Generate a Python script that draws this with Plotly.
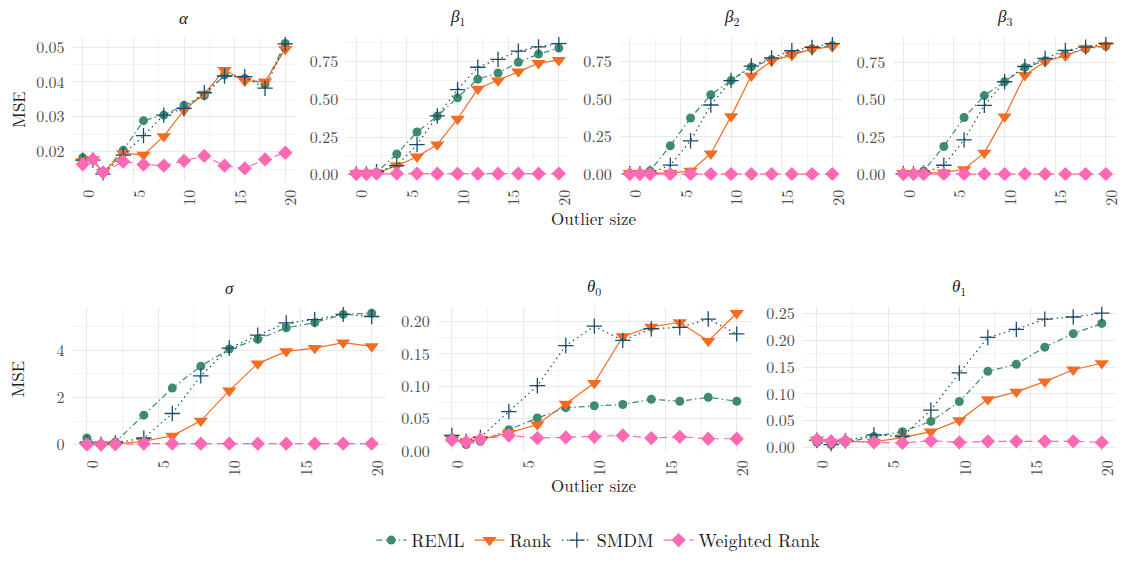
import plotly.graph_objects as go

W, H = 1123, 563

# Outlier sizes on the x axis
outlier = [0, 1, 2, 4, 6, 8, 10, 12, 14, 16, 18, 20]

methods = ["REML", "Rank", "SMDM", "Weighted Rank"]

# MSE per parameter and method
alpha_reml = [0.0183, 0.0176, 0.0141, 0.0204, 0.0289, 0.0305, 0.0333, 0.0361, 0.0420, 0.0410, 0.0394, 0.0510]
alpha_rank = [0.0172, 0.0178, 0.0141, 0.0195, 0.0191, 0.0244, 0.0319, 0.0366, 0.0434, 0.0403, 0.0401, 0.0494]
alpha_smdm = [0.0176, 0.0176, 0.0136, 0.0190, 0.0246, 0.0305, 0.0324, 0.0369, 0.0417, 0.0415, 0.0382, 0.0509]
alpha_wrank = [0.0164, 0.0178, 0.0141, 0.0172, 0.0163, 0.0160, 0.0174, 0.0188, 0.0160, 0.0152, 0.0178, 0.0197]

beta1_reml = [0.010, 0.010, 0.015, 0.138, 0.284, 0.389, 0.510, 0.634, 0.675, 0.746, 0.800, 0.840]
beta1_rank = [0.010, 0.010, 0.012, 0.060, 0.120, 0.200, 0.370, 0.570, 0.625, 0.684, 0.740, 0.760]
beta1_smdm = [0.005, 0.005, 0.020, 0.060, 0.200, 0.390, 0.565, 0.713, 0.765, 0.820, 0.848, 0.870]
beta1_wrank = [0.005, 0.006, 0.008, 0.008, 0.008, 0.007, 0.007, 0.007, 0.007, 0.008, 0.007, 0.008]

beta2_reml = [0.003, 0.005, 0.022, 0.190, 0.375, 0.530, 0.625, 0.716, 0.765, 0.800, 0.837, 0.859]
beta2_rank = [0.007, 0.007, 0.007, 0.007, 0.022, 0.137, 0.386, 0.657, 0.755, 0.794, 0.835, 0.852]
beta2_smdm = [0.003, 0.003, 0.007, 0.060, 0.223, 0.462, 0.625, 0.722, 0.776, 0.824, 0.846, 0.872]
beta2_wrank = [0.001, 0.001, 0.001, 0.001, 0.001, 0.001, 0.001, 0.001, 0.001, 0.001, 0.001, 0.001]

beta3_reml = [0.003, 0.005, 0.022, 0.186, 0.380, 0.527, 0.620, 0.716, 0.760, 0.800, 0.840, 0.859]
beta3_rank = [0.007, 0.007, 0.007, 0.011, 0.033, 0.143, 0.386, 0.664, 0.755, 0.794, 0.846, 0.863]
beta3_smdm = [0.003, 0.003, 0.007, 0.060, 0.230, 0.462, 0.620, 0.722, 0.776, 0.830, 0.852, 0.876]
beta3_wrank = [0.001, 0.001, 0.001, 0.001, 0.001, 0.001, 0.001, 0.001, 0.001, 0.001, 0.001, 0.001]

sigma_reml = [0.28, 0.02, 0.11, 1.25, 2.40, 3.33, 4.06, 4.47, 4.96, 5.18, 5.53, 5.58]
sigma_rank = [0.02, 0.02, 0.03, 0.14, 0.37, 1.01, 2.29, 3.44, 3.96, 4.10, 4.33, 4.17]
sigma_smdm = [0.07, 0.00, 0.07, 0.28, 1.32, 2.92, 4.10, 4.65, 5.17, 5.31, 5.53, 5.44]
sigma_wrank = [0.00, 0.00, 0.01, 0.04, 0.04, 0.04, 0.04, 0.04, 0.04, 0.04, 0.04, 0.04]

theta0_reml = [0.020, 0.010, 0.015, 0.033, 0.051, 0.067, 0.070, 0.072, 0.080, 0.077, 0.083, 0.077]
theta0_rank = [0.018, 0.015, 0.018, 0.028, 0.041, 0.073, 0.105, 0.177, 0.192, 0.199, 0.170, 0.213]
theta0_smdm = [0.024, 0.015, 0.021, 0.061, 0.101, 0.163, 0.193, 0.171, 0.189, 0.191, 0.204, 0.181]
theta0_wrank = [0.017, 0.014, 0.018, 0.024, 0.020, 0.021, 0.022, 0.024, 0.020, 0.022, 0.019, 0.019]

theta1_reml = [0.010, 0.006, 0.010, 0.021, 0.030, 0.049, 0.086, 0.142, 0.155, 0.187, 0.212, 0.231]
theta1_rank = [0.015, 0.010, 0.012, 0.011, 0.019, 0.030, 0.051, 0.090, 0.104, 0.123, 0.145, 0.157]
theta1_smdm = [0.014, 0.006, 0.013, 0.024, 0.021, 0.070, 0.139, 0.205, 0.220, 0.239, 0.243, 0.250]
theta1_wrank = [0.015, 0.012, 0.013, 0.010, 0.009, 0.013, 0.010, 0.012, 0.012, 0.012, 0.012, 0.010]

panel_titles = ["<i>α</i>", "<i>β</i><sub>1</sub>", "<i>β</i><sub>2</sub>", "<i>β</i><sub>3</sub>",
                "<i>σ</i>", "<i>θ</i><sub>0</sub>", "<i>θ</i><sub>1</sub>"]

panel_data = [
    [alpha_reml, alpha_rank, alpha_smdm, alpha_wrank],
    [beta1_reml, beta1_rank, beta1_smdm, beta1_wrank],
    [beta2_reml, beta2_rank, beta2_smdm, beta2_wrank],
    [beta3_reml, beta3_rank, beta3_smdm, beta3_wrank],
    [sigma_reml, sigma_rank, sigma_smdm, sigma_wrank],
    [theta0_reml, theta0_rank, theta0_smdm, theta0_wrank],
    [theta1_reml, theta1_rank, theta1_smdm, theta1_wrank],
]

# y-axis tick spacing (major, minor) and label format per panel
y_ticks = [(0.01, 0.005, ".2f"), (0.25, 0.125, ".2f"), (0.25, 0.125, ".2f"), (0.25, 0.125, ".2f"),
           (2, 1, "d"), (0.05, 0.025, ".2f"), (0.05, 0.025, ".2f")]

# panel boxes in pixels: (left, right, top, bottom)
panel_px = [(73, 297, 32, 180), (348, 572, 32, 180), (623, 847, 32, 180), (898, 1122, 32, 180),
            (73, 388, 310, 459), (440, 755, 310, 459), (807, 1122, 310, 459)]

styles = {
    "REML": dict(color="#3F8B6F", dash="6px,3px,1.5px,3px", symbol="circle", size=9),
    "Rank": dict(color="#F36C21", dash="solid", symbol="triangle-down", size=12.5),
    "SMDM": dict(color="#1A4C6E", dash="1.5px,3.5px", symbol="cross-thin", size=11),
    "Weighted Rank": dict(color="#FF69B4", dash="8px,5px", symbol="diamond", size=11),
}

FONT = "Latin Modern Roman, CMU Serif, Liberation Serif, Times New Roman, serif"
TICK_COLOR = "#4d4d4d"
GRID_MAJOR = "#e9e9e9"
GRID_MINOR = "#f3f3f3"

fig = go.Figure()
layout = {}
annotations = []

for i, (series, title, (dmaj, dmin, fmt), (l, r, t, b)) in enumerate(
        zip(panel_data, panel_titles, y_ticks, panel_px)):
    k = "" if i == 0 else str(i + 1)
    xa, ya = "x" + k, "y" + k

    for m, vals in zip(methods, series):
        s = styles[m]
        marker = dict(symbol=s["symbol"], size=s["size"], color=s["color"])
        if s["symbol"] == "cross-thin":
            marker["line"] = dict(color=s["color"], width=1.3)
        fig.add_trace(go.Scatter(
            x=outlier, y=vals, mode="lines+markers", name=m,
            legendgroup=m, showlegend=(i == 0),
            line=dict(color=s["color"], width=1.2, dash=s["dash"]),
            marker=marker, xaxis=xa, yaxis=ya,
        ))

    allv = [v for vals in series for v in vals]
    lo, hi = min(allv), max(allv)
    pad = 0.05 * (hi - lo)

    layout["xaxis" + k] = dict(
        domain=[l / W, r / W], anchor=ya, range=[-1, 21],
        tickmode="linear", tick0=0, dtick=5, tickangle=-90,
        ticklabelstandoff=5, ticklabelshift=6,
        showgrid=True, gridcolor=GRID_MAJOR, gridwidth=1.1,
        minor=dict(tick0=0, dtick=2.5, showgrid=True, gridcolor=GRID_MINOR, gridwidth=0.7),
        zeroline=False, showline=False, ticks="",
        tickfont=dict(family=FONT, size=16, color=TICK_COLOR),
    )
    layout["yaxis" + k] = dict(
        domain=[1 - b / H, 1 - t / H], anchor=xa, range=[lo - pad, hi + pad],
        tickmode="linear", tick0=0, dtick=dmaj, tickformat=fmt,
        ticklabelstandoff=7,
        showgrid=True, gridcolor=GRID_MAJOR, gridwidth=1.1,
        minor=dict(tick0=0, dtick=dmin, showgrid=True, gridcolor=GRID_MINOR, gridwidth=0.7),
        zeroline=False, showline=False, ticks="",
        tickfont=dict(family=FONT, size=16, color=TICK_COLOR),
    )

    annotations.append(dict(
        text=title, x=(l + r) / 2 / W, y=1 - t / H, xref="paper", yref="paper",
        xanchor="center", yanchor="bottom", yshift=6, showarrow=False,
        font=dict(family=FONT, size=17, color="#1a1a1a"),
    ))

# shared axis titles for each row
for yc in (106, 384):
    annotations.append(dict(
        text="MSE", x=18 / W, y=1 - yc / H, xref="paper", yref="paper",
        xanchor="center", yanchor="middle", textangle=-90, showarrow=False,
        font=dict(family=FONT, size=17, color="#1a1a1a"),
    ))
for yc in (219, 494):
    annotations.append(dict(
        text="Outlier size", x=597.5 / W, y=1 - yc / H, xref="paper", yref="paper",
        xanchor="center", yanchor="middle", showarrow=False,
        font=dict(family=FONT, size=17, color="#1a1a1a"),
    ))

fig.update_layout(
    width=W, height=H,
    margin=dict(l=0, r=0, t=0, b=0),
    paper_bgcolor="white", plot_bgcolor="white",
    font=dict(family=FONT, size=16, color="#1a1a1a"),
    annotations=annotations,
    legend=dict(
        orientation="h", x=602 / W, xanchor="center", y=1 - 551 / H, yanchor="middle",
        font=dict(family=FONT, size=18, color="#1a1a1a"),
        itemwidth=30, bgcolor="rgba(0,0,0,0)",
    ),
    **layout,
)

fig.write_html("out.html")
